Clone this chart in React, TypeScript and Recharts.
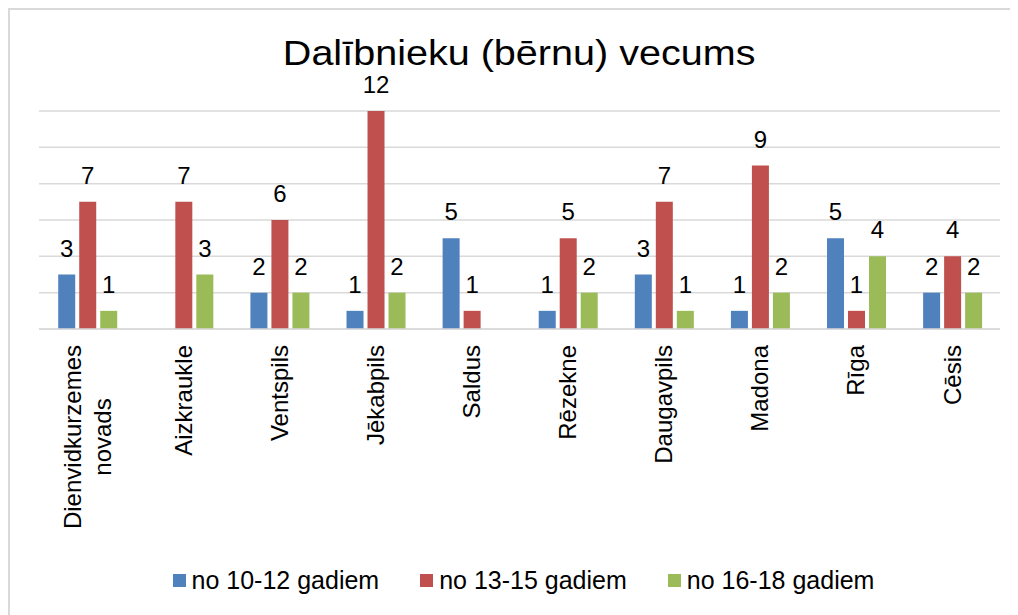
import React from "react";
import {
  Bar,
  BarChart,
  CartesianGrid,
  LabelList,
  Legend,
  XAxis,
  YAxis,
} from "recharts";

const categories = [
  "Dienvidkurzemes novads",
  "Aizkraukle",
  "Ventspils",
  "Jēkabpils",
  "Saldus",
  "Rēzekne",
  "Daugavpils",
  "Madona",
  "Rīga",
  "Cēsis",
];
const age10to12: (number | null)[] = [3, null, 2, 1, 5, 1, 3, 1, 5, 2];
const age13to15: (number | null)[] = [7, 7, 6, 12, 1, 5, 7, 9, 1, 4];
const age16to18: (number | null)[] = [1, 3, 2, 2, null, 2, 1, 2, 4, 2];
const seriesNames = ["no 10-12 gadiem", "no 13-15 gadiem", "no 16-18 gadiem"];
const seriesColors = ["#4F81BD", "#C0504D", "#9BBB59"];
const yTicks = [0, 2, 4, 6, 8, 10, 12];

const FONT = '"Liberation Sans", Arial, sans-serif';

const data = categories.map((name, i) => ({
  name,
  a: age10to12[i],
  b: age13to15[i],
  c: age16to18[i],
}));

let measureCtx: CanvasRenderingContext2D | null = null;
function textWidth(s: string, size: number) {
  if (!measureCtx) measureCtx = document.createElement("canvas").getContext("2d");
  if (!measureCtx) return s.length * size * 0.5;
  measureCtx.font = `${size}px ${FONT}`;
  return measureCtx.measureText(s).width;
}

// rotated category labels, end of text at the top, multi-line centred
function CategoryTick(props: any) {
  const { x, y, payload } = props;
  const lines = String(payload.value).split(" ");
  const size = 24;
  const longest = Math.max(...lines.map((l) => textWidth(l, size)));
  const lineH = 30;
  return (
    <text
      transform={`rotate(-90 ${x} ${y})`}
      textAnchor="middle"
      fontSize={size}
      fontFamily={FONT}
      fill="#000"
    >
      {lines.map((l, i) => (
        <tspan key={i} x={x - longest / 2} y={y + (i - (lines.length - 1) / 2) * lineH + 8.6}>
          {l}
        </tspan>
      ))}
    </text>
  );
}

function ValueLabel(props: any) {
  const { x, y, width, value } = props;
  if (value == null) return null;
  return (
    <text
      x={x + width / 2}
      y={y - 18}
      textAnchor="middle"
      fontSize={24}
      fontFamily={FONT}
      fill="#000"
    >
      {value}
    </text>
  );
}

function LegendBox() {
  return (
    <div
      style={{
        height: 30,
        display: "flex",
        justifyContent: "center",
        alignItems: "center",
        paddingLeft: 19,
        fontFamily: FONT,
        fontSize: 25,
        color: "#000",
      }}
    >
      {seriesNames.map((n, i) => (
        <div
          key={n}
          style={{
            display: "flex",
            alignItems: "center",
            marginRight: i < seriesNames.length - 1 ? 41 : 0,
          }}
        >
          <span
            style={{
              width: 13,
              height: 13,
              background: seriesColors[i],
              marginRight: 6,
              display: "inline-block",
            }}
          />
          <span style={{ lineHeight: "30px" }}>{n}</span>
        </div>
      ))}
    </div>
  );
}

export default function App() {
  return (
    <div
      style={{
        position: "relative",
        width: 1010,
        height: 607,
        boxSizing: "border-box",
        borderTop: "2px solid #D9D9D9",
        borderLeft: "2px solid #D9D9D9",
        background: "#fff",
      }}
    >
      <div
        style={{
          position: "absolute",
          top: 29,
          left: 0,
          width: 1008,
          paddingLeft: 10,
          boxSizing: "border-box",
          textAlign: "center",
          fontFamily: FONT,
          fontSize: 35,
          lineHeight: "28px",
          color: "#000",
          zIndex: 1,
          pointerEvents: "none",
        }}
      >
        <span style={{ display: "inline-block", transform: "scaleX(1.13)" }}>
          Dalībnieku (bērnu) vecums
        </span>
      </div>
      <BarChart
        width={1008}
        height={605}
        data={data}
        margin={{ top: 101, right: 18, left: 29, bottom: 20 }}
        barCategoryGap="20%"
        barGap={4}
      >
        <CartesianGrid stroke="#D9D9D9" strokeWidth={1.5} vertical={false} />
        <XAxis
          dataKey="name"
          interval={0}
          height={236}
          tickLine={false}
          tickSize={0}
          tickMargin={16}
          axisLine={{ stroke: "#D9D9D9", strokeWidth: 1.5 }}
          tick={<CategoryTick />}
        />
        <YAxis hide domain={[0, 12]} ticks={yTicks} />
        <Legend
          verticalAlign="bottom"
          height={30}
          wrapperStyle={{ left: 0, width: 1008 }}
          content={<LegendBox />}
        />
        <Bar dataKey="a" name={seriesNames[0]} fill={seriesColors[0]} isAnimationActive={false}>
          <LabelList dataKey="a" content={<ValueLabel />} />
        </Bar>
        <Bar dataKey="b" name={seriesNames[1]} fill={seriesColors[1]} isAnimationActive={false}>
          <LabelList dataKey="b" content={<ValueLabel />} />
        </Bar>
        <Bar dataKey="c" name={seriesNames[2]} fill={seriesColors[2]} isAnimationActive={false}>
          <LabelList dataKey="c" content={<ValueLabel />} />
        </Bar>
      </BarChart>
    </div>
  );
}
